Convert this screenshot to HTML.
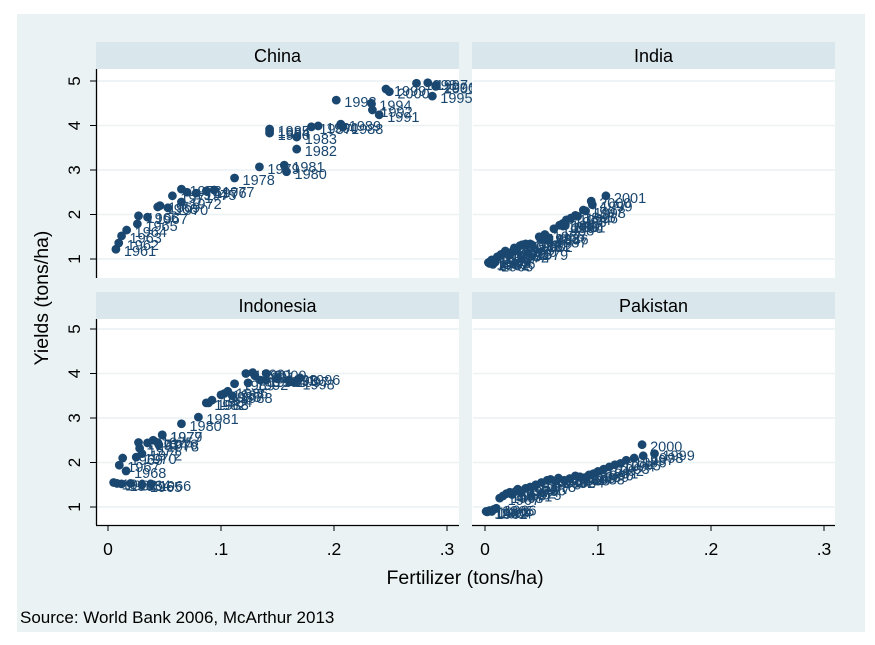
<!DOCTYPE html>
<html><head><meta charset="utf-8">
<style>
html,body{margin:0;padding:0;background:#fff;}
svg{display:block;font-family:"Liberation Sans",Arial,sans-serif;}
</style></head>
<body>
<svg id="chart" width="875" height="645" viewBox="0 0 875 645">
  <rect x="17" y="14" width="848" height="618" fill="#eaf2f3"/>
  <g id="panels"></g>
  <text x="465" y="584" text-anchor="middle" font-size="19.5" fill="#000">Fertilizer (tons/ha)</text>
  <text transform="translate(48,298) rotate(-90)" text-anchor="middle" font-size="19.5" fill="#000">Yields (tons/ha)</text>
  <text x="20" y="623" font-size="17" fill="#000">Source: World Bank 2006, McArthur 2013</text>
</svg>
<script>
const countries = ["China","India","Indonesia","Pakistan"];
const xTicks = [0, 0.1, 0.2, 0.3];
const xTickLabels = ["0", ".1", ".2", ".3"];
const yTicks = [1, 2, 3, 4, 5];
const yTickLabels = ["1", "2", "3", "4", "5"];

const chinaYears = [1961,1962,1963,1964,1965,1966,1967,1968,1969,1970,1971,1972,1973,1974,1975,1976,1977,1978,1979,1980,1981,1982,1983,1984,1985,1986,1987,1988,1989,1990,1991,1992,1993,1994,1995,1996,1997,1998,1999,2000,2001];
const chinaFert = [.007,.0095,.012,.0165,.026,.027,.035,.044,.046,.053,.057,.065,.065,.070,.078,.087,.094,.112,.134,.158,.156,.167,.167,.143,.143,.143,.180,.208,.206,.186,.240,.234,.202,.233,.287,.290,.283,.273,.246,.249,.290];
const chinaYield = [1.22,1.36,1.52,1.65,1.79,1.97,1.94,2.17,2.20,2.15,2.42,2.28,2.57,2.50,2.48,2.53,2.55,2.82,3.07,2.96,3.11,3.47,3.74,3.88,3.92,3.83,3.97,3.97,4.03,3.99,4.24,4.35,4.57,4.50,4.66,4.90,4.96,4.95,4.82,4.76,4.88];

const indiaYears = [1961,1962,1963,1964,1965,1966,1967,1968,1969,1970,1971,1972,1973,1974,1975,1976,1977,1978,1979,1980,1981,1982,1983,1984,1985,1986,1987,1988,1989,1990,1991,1992,1993,1994,1995,1996,1997,1998,1999,2000,2001];
const indiaFert = [.003,.004,.005,.006,.007,.009,.011,.014,.016,.018,.020,.021,.024,.022,.026,.028,.031,.033,.038,.036,.040,.042,.048,.049,.053,.056,.055,.061,.066,.069,.071,.069,.072,.076,.080,.082,.087,.089,.095,.094,.107];
const indiaYield = [.92,.90,.95,.98,.88,.93,1.05,1.10,1.12,1.18,1.13,1.08,1.16,1.10,1.25,1.20,1.30,1.32,1.14,1.34,1.34,1.31,1.50,1.46,1.55,1.48,1.42,1.68,1.76,1.74,1.75,1.80,1.88,1.92,1.98,1.96,2.10,2.08,2.22,2.30,2.42];

const indonesiaYears = [1961,1962,1963,1964,1965,1966,1967,1968,1969,1970,1971,1972,1973,1974,1975,1976,1977,1978,1979,1980,1981,1982,1983,1984,1985,1986,1987,1988,1989,1990,1991,1992,1993,1994,1995,1996,1997,1998,1999,2000,2001];
const indonesiaFert = [.005,.008,.012,.020,.030,.038,.010,.016,.013,.025,.028,.030,.027,.035,.040,.044,.048,.045,.048,.065,.080,.087,.089,.092,.100,.106,.103,.110,.112,.122,.128,.124,.135,.140,.150,.170,.160,.165,.150,.140,.130];
const indonesiaYield = [1.55,1.53,1.52,1.53,1.50,1.52,1.94,1.81,2.10,2.12,2.32,2.20,2.45,2.44,2.50,2.45,2.62,2.40,2.62,2.87,3.02,3.34,3.34,3.40,3.52,3.60,3.55,3.50,3.77,4.00,4.02,3.79,3.85,3.85,3.88,3.90,3.85,3.80,3.90,4.00,3.95];

const pakistanYears = [1961,1962,1963,1964,1965,1966,1967,1968,1969,1970,1971,1972,1973,1974,1975,1976,1977,1978,1979,1980,1981,1982,1983,1984,1985,1986,1987,1988,1989,1990,1991,1992,1993,1994,1995,1996,1997,1998,1999,2000];
const pakistanFert = [.001,.002,.004,.006,.008,.010,.013,.016,.019,.022,.024,.027,.029,.030,.032,.036,.040,.045,.050,.055,.058,.062,.065,.070,.075,.080,.084,.088,.092,.096,.100,.105,.110,.115,.120,.125,.132,.140,.150,.139];
const pakistanYield = [.90,.89,.92,.90,.95,.97,1.20,1.25,1.30,1.33,1.28,1.35,1.40,1.38,1.32,1.42,1.45,1.50,1.55,1.60,1.62,1.58,1.65,1.60,1.64,1.70,1.68,1.66,1.72,1.75,1.80,1.85,1.90,1.95,1.98,2.05,2.10,2.15,2.20,2.40];

const NS = "http://www.w3.org/2000/svg";
const root = document.getElementById("panels");
function mk(tag, attrs, parent){
  const e = document.createElementNS(NS, tag);
  for (const k in attrs) e.setAttribute(k, attrs[k]);
  (parent||root).appendChild(e);
  return e;
}
const panelSeries = [
  [chinaYears, chinaFert, chinaYield],
  [indiaYears, indiaFert, indiaYield],
  [indonesiaYears, indonesiaFert, indonesiaYield],
  [pakistanYears, pakistanFert, pakistanYield]
];
const COLOR = "#1a476f";
for (let p = 0; p < 4; p++){
  const col = p % 2, row = Math.floor(p / 2);
  const left = col === 0 ? 96 : 472;
  const width = 363;
  const headTop = row === 0 ? 42 : 292;
  const plotTop = headTop + 27;
  const plotBot = row === 0 ? 278 : 525;
  const x0 = col === 0 ? 108 : 485;
  const y1px = row === 0 ? 259 : 507;
  const xs = v => x0 + v * 1130;
  const ys = v => y1px - (v - 1) * 44.5;

  const g = mk("g", {});
  
  

  const hd = mk("rect", {x:left, y:headTop, width:width, height:27, fill:"#d9e6eb"}, g);
  
  
  const ht = mk("text", {x:left + width/2, y:headTop + 20, "text-anchor":"middle", "font-size":"18", fill:"#000"}, g);
  ht.textContent = countries[p];
  
  

  const pa = mk("rect", {x:left, y:plotTop, width:width, height:plotBot - plotTop, fill:"#fff"}, g);
  
  

  for (let i = 0; i < yTicks.length; i++){
    const y = ys(yTicks[i]);
    const gl = mk("line", {x1:left+1, x2:left+width, y1:y, y2:y, stroke:"#eaf2f3", "stroke-width":"1.5"}, g);
    
    
    if (col === 0){
      const tk = mk("line", {x1:90, x2:96, y1:y, y2:y, stroke:"#000", "stroke-width":"1"}, g);
      
      
      const tl = mk("text", {transform:"translate(80," + y + ") rotate(-90)", "text-anchor":"middle", "font-size":"17", fill:"#000"}, g);
      tl.textContent = yTickLabels[i];
      
      
    }
  }
  if (col === 0){
    const ax = mk("line", {x1:96.5, x2:96.5, y1:plotTop, y2:plotBot, stroke:"#000", "stroke-width":"1.3"}, g);
    
    
  }
  if (row === 1){
    const bx = mk("line", {x1:left, x2:left+width, y1:525.5, y2:525.5, stroke:"#000", "stroke-width":"1.3"}, g);
    
    
    for (let i = 0; i < xTicks.length; i++){
      const x = xs(xTicks[i]);
      const tk = mk("line", {x1:x, x2:x, y1:525, y2:531, stroke:"#000", "stroke-width":"1"}, g);
      
      
      const tl = mk("text", {x:x, y:555, "text-anchor":"middle", "font-size":"17.5", fill:"#000"}, g);
      tl.textContent = xTickLabels[i];
      
      
    }
  }

  const [yrs, fx, fy] = panelSeries[p];
  for (let i = 0; i < yrs.length; i++){
    const cx = xs(fx[i]), cy = ys(fy[i]);
    const c = mk("circle", {cx:cx, cy:cy, r:4.4, fill:COLOR}, g);
    
    
    const t = mk("text", {x:cx + 8, y:cy + 7, "font-size":"14.5", fill:COLOR}, g);
    t.textContent = String(yrs[i]);
    
    
  }
}
</script>
</body></html>
